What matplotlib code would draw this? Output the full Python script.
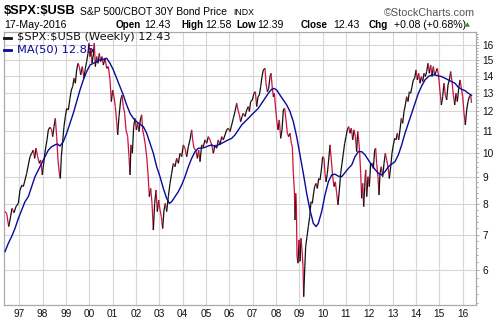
import numpy as np
import matplotlib
matplotlib.use("Agg")
import matplotlib.pyplot as plt
from matplotlib.collections import LineCollection
from matplotlib.lines import Line2D
from matplotlib.ticker import FixedLocator, NullFormatter

plt.rcParams["text.parse_math"] = False

# ---------------- data ----------------
price_t = [
    1996.386, 1996.457, 1996.543, 1996.600, 1996.686, 1996.771, 1996.857, 1996.957, 1997.029, 1997.114,
    1997.171, 1997.243, 1997.314, 1997.386, 1997.457, 1997.529, 1997.600, 1997.657, 1997.714, 1997.786,
    1997.857, 1997.914, 1997.986, 1998.043, 1998.114, 1998.186, 1998.243, 1998.314, 1998.386, 1998.429,
    1998.486, 1998.543, 1998.600, 1998.657, 1998.714, 1998.757, 1998.800, 1998.857, 1998.914, 1998.971,
    1999.029, 1999.100, 1999.171, 1999.229, 1999.286, 1999.343, 1999.400, 1999.457, 1999.514, 1999.571,
    1999.629, 1999.700, 1999.771, 1999.829, 1999.886, 1999.943, 1999.986, 2000.029, 2000.071, 2000.114,
    2000.171, 2000.214, 2000.257, 2000.314, 2000.371, 2000.429, 2000.486, 2000.543, 2000.600, 2000.671,
    2000.743, 2000.814, 2000.886, 2000.943, 2001.000, 2001.057, 2001.114, 2001.171, 2001.214, 2001.271,
    2001.343, 2001.400, 2001.457, 2001.514, 2001.571, 2001.643, 2001.700, 2001.743, 2001.786, 2001.843,
    2001.900, 2001.957, 2002.014, 2002.071, 2002.129, 2002.186, 2002.243, 2002.286, 2002.343, 2002.400,
    2002.457, 2002.514, 2002.571, 2002.629, 2002.686, 2002.743, 2002.800, 2002.857, 2002.914, 2002.971,
    2003.029, 2003.086, 2003.143, 2003.200, 2003.257, 2003.314, 2003.386, 2003.457, 2003.529, 2003.600,
    2003.671, 2003.743, 2003.814, 2003.886, 2003.957, 2004.029, 2004.100, 2004.171, 2004.243, 2004.314,
    2004.386, 2004.429, 2004.486, 2004.557, 2004.629, 2004.686, 2004.743, 2004.814, 2004.886, 2004.957,
    2005.029, 2005.100, 2005.171, 2005.243, 2005.314, 2005.386, 2005.457, 2005.529, 2005.600, 2005.671,
    2005.743, 2005.814, 2005.886, 2005.957, 2006.029, 2006.100, 2006.171, 2006.243, 2006.314, 2006.371,
    2006.429, 2006.486, 2006.543, 2006.600, 2006.671, 2006.743, 2006.814, 2006.857, 2006.914, 2006.986,
    2007.057, 2007.114, 2007.171, 2007.229, 2007.286, 2007.343, 2007.400, 2007.457, 2007.529, 2007.571,
    2007.629, 2007.686, 2007.743, 2007.786, 2007.843, 2007.886, 2007.929, 2007.971, 2008.029, 2008.086,
    2008.143, 2008.200, 2008.257, 2008.314, 2008.371, 2008.429, 2008.486, 2008.543, 2008.600, 2008.657,
    2008.700, 2008.743, 2008.786, 2008.814, 2008.843, 2008.871, 2008.900, 2008.943, 2008.986, 2009.029,
    2009.071, 2009.114, 2009.157, 2009.186, 2009.229, 2009.271, 2009.329, 2009.386, 2009.443, 2009.500,
    2009.557, 2009.600, 2009.657, 2009.714, 2009.771, 2009.829, 2009.886, 2009.943, 2010.000, 2010.057,
    2010.100, 2010.143, 2010.200, 2010.257, 2010.314, 2010.371, 2010.429, 2010.486, 2010.543, 2010.600,
    2010.657, 2010.714, 2010.771, 2010.829, 2010.886, 2010.943, 2011.000, 2011.057, 2011.114, 2011.171,
    2011.229, 2011.286, 2011.343, 2011.400, 2011.457, 2011.500, 2011.543, 2011.586, 2011.629, 2011.671,
    2011.714, 2011.757, 2011.800, 2011.843, 2011.886, 2011.943, 2012.000, 2012.057, 2012.114, 2012.171,
    2012.229, 2012.271, 2012.314, 2012.371, 2012.414, 2012.457, 2012.514, 2012.571, 2012.629, 2012.686,
    2012.743, 2012.800, 2012.857, 2012.914, 2012.971, 2013.029, 2013.086, 2013.143, 2013.200, 2013.257,
    2013.314, 2013.371, 2013.429, 2013.486, 2013.543, 2013.600, 2013.657, 2013.714, 2013.771, 2013.829,
    2013.886, 2013.943, 2014.000, 2014.057, 2014.114, 2014.171, 2014.229, 2014.286, 2014.343, 2014.400,
    2014.457, 2014.514, 2014.571, 2014.629, 2014.686, 2014.743, 2014.800, 2014.857, 2014.914, 2014.971,
    2015.029, 2015.086, 2015.143, 2015.200, 2015.257, 2015.314, 2015.371, 2015.429, 2015.486, 2015.543,
    2015.600, 2015.657, 2015.714, 2015.771, 2015.829, 2015.886, 2015.943, 2016.000, 2016.057, 2016.114,
    2016.171, 2016.229, 2016.286, 2016.343, 2016.380,
]
price_v = [
    7.74, 7.68, 7.25, 7.46, 7.85, 7.70, 7.91, 8.02, 8.50, 8.69,
    8.63, 8.88, 9.14, 9.48, 9.83, 9.98, 10.12, 9.76, 10.20, 9.83,
    9.55, 9.69, 9.08, 9.55, 10.12, 10.58, 11.05, 11.18, 11.05, 10.73,
    11.21, 11.62, 10.73, 9.69, 9.14, 8.94, 9.83, 10.50, 11.21, 11.71,
    12.14, 12.05, 12.68, 13.15, 13.34, 13.84, 13.54, 14.35, 14.77, 14.56,
    14.04, 14.56, 13.84, 14.45, 14.88, 15.43, 16.12, 15.21, 15.76, 14.77,
    15.32, 16.12, 14.56, 15.21, 14.77, 15.43, 14.88, 15.21, 14.66, 15.10,
    14.45, 14.56, 13.74, 12.50, 13.15, 12.77, 12.23, 11.45, 10.81, 11.71,
    12.59, 12.86, 12.23, 11.88, 11.05, 10.73, 9.83, 9.08, 10.35, 9.98,
    11.21, 11.62, 11.05, 11.37, 10.97, 11.54, 11.80, 11.05, 10.73, 10.35,
    9.83, 9.14, 8.26, 8.56, 8.02, 7.14, 8.02, 8.50, 7.74, 8.14,
    7.79, 7.57, 7.19, 7.79, 8.02, 7.74, 8.26, 8.75, 9.14, 9.55,
    9.41, 9.76, 9.55, 9.98, 9.83, 10.35, 10.20, 9.83, 10.27, 10.58,
    11.05, 10.58, 10.20, 10.12, 9.76, 10.12, 9.62, 10.35, 10.27, 10.58,
    10.42, 10.73, 10.58, 10.35, 9.98, 10.35, 10.20, 10.58, 10.35, 10.73,
    10.58, 10.81, 11.05, 11.13, 10.97, 11.29, 11.62, 11.97, 12.41, 12.05,
    11.80, 11.45, 11.71, 11.88, 11.71, 12.05, 12.23, 11.97, 12.50, 12.59,
    12.96, 13.05, 12.23, 12.77, 12.86, 13.34, 13.94, 14.35, 14.45, 13.54,
    13.05, 13.24, 13.94, 14.14, 13.24, 12.77, 12.96, 12.32, 11.54, 11.05,
    11.54, 10.65, 11.05, 12.05, 12.14, 11.54, 10.89, 10.73, 10.89, 10.42,
    10.27, 9.14, 8.50, 7.46, 8.38, 8.02, 6.36, 6.18, 6.84, 6.23,
    6.89, 6.55, 6.09, 5.34, 6.00, 6.64, 6.94, 7.25, 7.57, 8.08,
    8.02, 8.32, 8.63, 8.75, 8.56, 8.94, 8.88, 9.28, 9.83, 9.76,
    9.14, 8.81, 9.14, 9.69, 10.35, 9.69, 9.01, 8.63, 8.81, 8.38,
    7.97, 8.50, 9.14, 9.55, 9.98, 10.42, 10.73, 11.05, 11.21, 10.89,
    11.13, 10.58, 11.05, 10.73, 10.05, 10.97, 10.58, 9.98, 9.14, 8.20,
    8.75, 7.91, 8.63, 9.28, 8.26, 9.01, 8.63, 9.55, 9.55, 9.34,
    10.12, 10.20, 9.55, 9.01, 8.32, 9.14, 9.41, 9.01, 9.55, 9.98,
    9.69, 9.41, 8.94, 9.41, 9.98, 10.35, 10.65, 10.58, 10.89, 10.58,
    11.05, 11.62, 11.37, 11.97, 12.32, 12.77, 12.50, 13.05, 12.96, 13.34,
    13.74, 13.84, 14.35, 13.74, 14.14, 13.54, 13.94, 13.64, 14.14, 13.94,
    14.25, 14.77, 14.14, 14.66, 13.94, 14.56, 14.04, 14.25, 14.45, 13.94,
    13.05, 12.32, 12.77, 13.54, 12.86, 12.59, 13.44, 13.74, 14.25, 13.64,
    12.86, 12.32, 12.96, 12.50, 13.24, 13.74, 13.24, 12.77, 11.88, 11.29,
    12.05, 12.50, 12.77, 12.86, 12.43,
]
ma_t = [
    1996.386, 1996.529, 1996.671, 1996.814, 1996.957, 1997.100, 1997.243, 1997.386, 1997.529, 1997.671,
    1997.814, 1997.957, 1998.100, 1998.243, 1998.386, 1998.529, 1998.629, 1998.743, 1998.886, 1999.029,
    1999.171, 1999.314, 1999.457, 1999.600, 1999.743, 1999.886, 2000.029, 2000.171, 2000.314, 2000.457,
    2000.600, 2000.743, 2000.886, 2001.029, 2001.171, 2001.314, 2001.457, 2001.600, 2001.743, 2001.886,
    2002.029, 2002.171, 2002.314, 2002.457, 2002.600, 2002.743, 2002.886, 2003.029, 2003.171, 2003.314,
    2003.429, 2003.529, 2003.671, 2003.814, 2003.957, 2004.100, 2004.243, 2004.386, 2004.529, 2004.671,
    2004.814, 2004.957, 2005.100, 2005.243, 2005.386, 2005.529, 2005.671, 2005.814, 2005.957, 2006.100,
    2006.243, 2006.386, 2006.529, 2006.671, 2006.814, 2006.957, 2007.100, 2007.243, 2007.386, 2007.529,
    2007.671, 2007.814, 2007.914, 2008.029, 2008.171, 2008.314, 2008.457, 2008.600, 2008.743, 2008.886,
    2009.029, 2009.171, 2009.314, 2009.457, 2009.600, 2009.714, 2009.814, 2009.957, 2010.100, 2010.243,
    2010.386, 2010.529, 2010.671, 2010.814, 2010.957, 2011.100, 2011.243, 2011.386, 2011.529, 2011.671,
    2011.814, 2011.957, 2012.100, 2012.243, 2012.386, 2012.529, 2012.671, 2012.814, 2012.957, 2013.100,
    2013.243, 2013.386, 2013.529, 2013.671, 2013.814, 2013.957, 2014.100, 2014.243, 2014.386, 2014.529,
    2014.671, 2014.814, 2014.957, 2015.100, 2015.243, 2015.386, 2015.529, 2015.671, 2015.814, 2015.957,
    2016.100, 2016.243, 2016.380,
]
ma_v = [
    6.50, 6.74, 6.94, 7.19, 7.51, 7.79, 8.08, 8.26, 8.63, 9.01,
    9.28, 9.55, 9.83, 10.12, 10.27, 10.35, 10.39, 10.30, 10.50, 10.89,
    11.37, 11.88, 12.50, 13.15, 13.74, 14.25, 14.66, 14.77, 14.88, 14.99,
    15.03, 15.10, 14.77, 14.35, 13.84, 13.34, 12.86, 12.32, 11.88, 11.62,
    11.45, 11.32, 11.21, 10.89, 10.42, 9.98, 9.41, 9.01, 8.56, 8.20,
    8.02, 8.08, 8.26, 8.44, 8.69, 9.01, 9.41, 9.76, 10.05, 10.20,
    10.20, 10.24, 10.30, 10.35, 10.27, 10.35, 10.42, 10.50, 10.58, 10.65,
    10.81, 11.05, 11.29, 11.45, 11.62, 11.80, 11.97, 12.14, 12.41, 12.68,
    12.96, 13.19, 13.24, 13.15, 12.86, 12.59, 12.32, 11.97, 11.45, 10.73,
    9.91, 9.14, 8.38, 7.79, 7.35, 7.25, 7.35, 7.74, 8.32, 8.81,
    9.08, 9.11, 9.03, 9.01, 9.17, 9.34, 9.48, 9.83, 10.05, 10.05,
    9.91, 9.69, 9.48, 9.30, 9.14, 9.08, 9.21, 9.41, 9.52, 9.62,
    9.91, 10.35, 10.89, 11.37, 11.88, 12.41, 12.96, 13.38, 13.74, 13.94,
    14.04, 14.04, 13.98, 13.94, 13.84, 13.74, 13.64, 13.54, 13.30, 13.19,
    13.11, 12.96, 12.85,
]
year_ticks = list(range(1997, 2017))
year_labels = ["97", "98", "99", "00", "01", "02", "03", "04", "05", "06",
               "07", "08", "09", "10", "11", "12", "13", "14", "15", "16"]
value_ticks = [6, 7, 8, 9, 10, 11, 12, 13, 14, 15, 16]

# ---------------- figure ----------------
W, H = 495, 323
fig = plt.figure(figsize=(W / 100, H / 100), dpi=100)
fig.patch.set_facecolor("white")


def fx(px):
    return px / W


def fy(py):
    return 1 - py / H


ax = fig.add_axes([fx(4), fy(305), fx(476) - fx(4), fy(32) - fy(305)])
ax.set_yscale("log")
ax.set_xlim(1996.343, 2016.571)
ax.set_ylim(5.15, 16.93)

grid_c = "#d6d6d6"
ax.xaxis.set_major_locator(FixedLocator(year_ticks))
ax.set_xticklabels(year_labels)
ax.yaxis.set_major_locator(FixedLocator(value_ticks))
ax.set_yticklabels([str(v) for v in value_ticks])
minor = [round(5.2 + 0.2 * i, 1) for i in range(59)]
minor = [m for m in minor if abs(m - round(m)) > 1e-6]
ax.yaxis.set_minor_locator(FixedLocator(minor))
ax.yaxis.set_minor_formatter(NullFormatter())
ax.yaxis.tick_right()
ax.grid(True, which="major", color=grid_c, linewidth=0.8)
ax.set_axisbelow(True)

for lab in ax.get_xticklabels() + ax.get_yticklabels():
    lab.set_family("Liberation Sans")
    lab.set_fontsize(7.3)
    lab.set_color("#111111")
ax.tick_params(axis="x", length=0, pad=3)
ax.tick_params(axis="y", which="major", length=2, width=0.6, color="#999999", pad=2.5)
ax.tick_params(axis="y", which="minor", length=1.5, width=0.6, color="#999999")
for s in ax.spines.values():
    s.set_color("#aaaaaa")
    s.set_linewidth(0.9)

# price line coloured by direction
t = np.array(price_t)
v = np.array(price_v)
n = min(len(t), len(v))
t, v = t[:n], v[:n]
pts = np.column_stack([t, v])
segs = np.stack([pts[:-1], pts[1:]], axis=1)
red = "#d0103c"
cols = [("#111111" if d >= 0 else red) for d in np.diff(v)]
lc = LineCollection(segs, colors=cols, linewidths=0.9, zorder=3)
ax.add_collection(lc)

# moving average
ax.plot(ma_t, ma_v, color="#0a0a9a", linewidth=1.0, zorder=4)

# ---------------- header texts ----------------
hf = "Liberation Sans"
fig.text(fx(4), fy(11), "$SPX:$USB", fontsize=9.3, fontweight="bold",
         family=hf, va="center", ha="left")
fig.text(fx(80), fy(12), "S&P 500/CBOT 30Y Bond Price", fontsize=7.5,
         family=hf, va="center", ha="left")
fig.text(fx(233), fy(12.5), "INDX", fontsize=6.3, family=hf, va="center", ha="left")
fig.text(fx(475), fy(12.5), "\u00a9StockCharts.com", fontsize=7.8, family=hf,
         va="center", ha="right", color="#555555")

fig.text(fx(4), fy(25), "17-May-2016", fontsize=7.7, family=hf, va="center", ha="left")
row = [(115.7, "Open", True), (144, "12.43", False), (181, "High", True),
       (205, "12.58", False), (236, "Low", True), (257, "12.39", False),
       (301, "Close", True), (333, "12.43", False), (369, "Chg", True),
       (394, "+0.08 (+0.68%)", False)]
for x0, s, b in row:
    fig.text(fx(x0), fy(25), s, fontsize=(7.1 if b else 7.6), family=hf,
             fontweight=("bold" if b else "normal"), va="center", ha="left")
fig.text(fx(465), fy(24.5), "\u25b2", fontsize=4.5, family="DejaVu Sans",
         color="#2e8b2e", va="center", ha="left")

# legend inside the plot
fig.add_artist(Line2D([fx(4), fx(11)], [fy(37.5), fy(37.5)], color="#111111",
                      linewidth=2.0, transform=fig.transFigure))
fig.text(fx(17), fy(37.5), "$SPX:$USB (Weekly) 12.43", fontsize=8.2,
         family="DejaVu Sans", va="center", ha="left", color="#111111")
fig.add_artist(Line2D([fx(4), fx(11)], [fy(49.5), fy(49.5)], color="#0a0a9a",
                      linewidth=2.0, transform=fig.transFigure))
fig.text(fx(17), fy(49.5), "MA(50) 12.85", fontsize=8.2,
         family="DejaVu Sans", va="center", ha="left", color="#0a0a9a")

fig.savefig("out.png", dpi=100)
